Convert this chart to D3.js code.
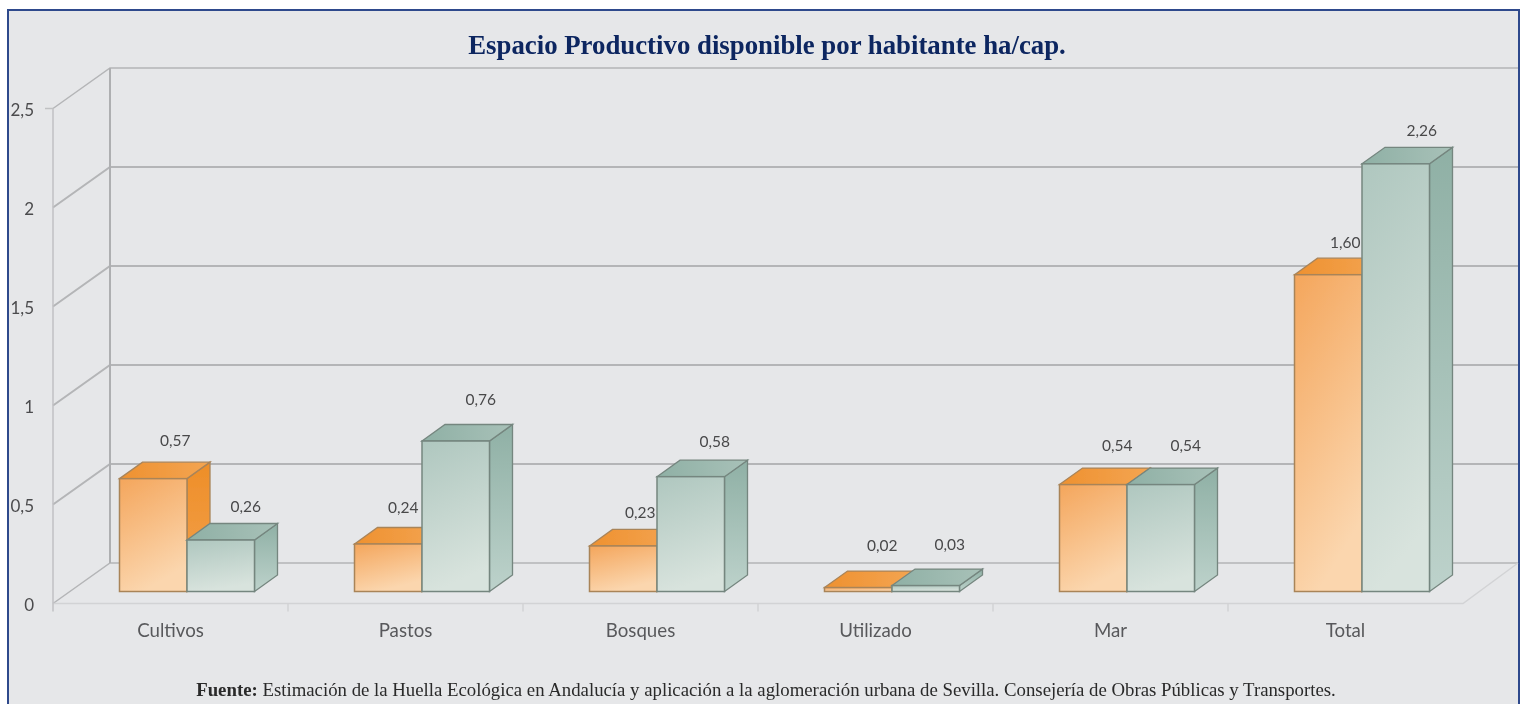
<!DOCTYPE html>
<html>
<head>
<meta charset="utf-8">
<title>Espacio Productivo disponible por habitante</title>
<script src="https://cdn.jsdelivr.net/npm/d3@7"></script>
<style>
    html, body { margin: 0; padding: 0; background: #ffffff; }
    svg { display: block; }
    text { font-family: Lato, sans-serif; }
</style>
</head>
<body>
<div id="chart"></div>
<script>

const categories = ["Cultivos", "Pastos", "Bosques", "Utilizado", "Mar", "Total"]
const series_names = ["naranja", "verde"]

// printed values
const naranja_labels = ["0,57", "0,24", "0,23", "0,02", "0,54", "1,60"]
const verde_labels = ["0,26", "0,76", "0,58", "0,03", "0,54", "2,26"]

// bar heights as drawn. The last green bar is labelled 2,26 but only reaches about 2,16 in the picture
const naranja_values = [0.57, 0.24, 0.23, 0.02, 0.54, 1.60]
const verde_values = [0.26, 0.76, 0.58, 0.03, 0.54, 2.16]

const y_ticks = [0, 0.5, 1, 1.5, 2, 2.5]
const y_tick_labels = ["0", "0,5", "1", "1,5", "2", "2,5"]

const title_text = "Espacio Productivo disponible por habitante ha/cap."
const source_bold = "Fuente:"
const source_text = " Estimación de la Huella Ecológica en Andalucía y aplicación a la aglomeración urbana de Sevilla. Consejería de Obras Públicas y Transportes."

const width = 1520
const height = 704

// layout of the fake 3d box
const wall_dx = 57
const wall_dy = -40.5
const bar_dx = 23
const bar_dy = -16.5
const bar_base = 591.5

const svg = d3.select("#chart").append("svg")
    .attr("width", width)
    .attr("height", height)

const defs = svg.append("defs")

function add_gradient(id, from, to, x2, y2){
    const g = defs.append("linearGradient").attr("id", id)
        .attr("x1", 0).attr("y1", 0).attr("x2", x2).attr("y2", y2)
    g.append("stop").attr("offset", "0%").attr("stop-color", from)
    g.append("stop").attr("offset", "100%").attr("stop-color", to)
}

add_gradient("naranja_front", "#f4a65c", "#fbd6ae", 0.35, 1)
add_gradient("naranja_top", "#ee9130", "#f4a552", 1, 0)
add_gradient("naranja_side", "#ee8e28", "#f3a24e", 0, 1)
add_gradient("verde_front", "#afc7bf", "#d8e3dd", 0.2, 1)
add_gradient("verde_top", "#8fb0a5", "#a8c1b8", 1, 0)
add_gradient("verde_side", "#8fb0a5", "#bdd2cb", 0, 1)

// the source picture is a bit soft, everything goes through a small blur
defs.append("filter").attr("id", "soft")
    .attr("filterUnits", "userSpaceOnUse")
    .attr("x", 0).attr("y", 0).attr("width", width).attr("height", height)
    .append("feGaussianBlur").attr("stdDeviation", 0.45)

const root = svg.append("g").attr("filter", "url(#soft)")

// background + the navy frame (open at the bottom)
root.append("rect")
    .attr("x", 8).attr("y", 10)
    .attr("width", 1511).attr("height", height - 10)
    .attr("fill", "#e6e7e9")

root.append("path")
    .attr("d", d3.line()([[8, height + 5], [8, 10], [1519, 10], [1519, height + 5]]))
    .attr("fill", "none")
    .attr("stroke", "#2f4a8c")
    .attr("stroke-width", 2)

const x = d3.scaleBand().domain(categories).range([53, 1463])
const x_inner = d3.scaleBand().domain(series_names).range([66.5, 201.5])
const y_front = d3.scaleLinear().domain([0, 2.5]).range([603.5, 108.5])
const y_bar = d3.scaleLinear().domain([0, 2.5]).range([bar_base, bar_base - 495])

const line = d3.line()

// walls
const walls = root.append("g").attr("fill", "none")

walls.selectAll(".grid")
    .data(y_ticks.filter(d => d > 0))
    .join("path")
    .attr("class", "grid")
    .attr("d", d => line([[53, y_front(d)], [53 + wall_dx, y_front(d) + wall_dy], [1518, y_front(d) + wall_dy]]))
    .attr("stroke", "#b4b5b7")
    .attr("stroke-width", d => d == 2.5 ? 1.5 : 2)

// zero line of the back wall and the floor are lighter
walls.append("path")
    .attr("d", line([[53, y_front(0)], [53 + wall_dx, y_front(0) + wall_dy], [1518, y_front(0) + wall_dy]]))
    .attr("stroke", "#b4b5b7")
    .attr("stroke-width", 1.5)

walls.append("path")
    .attr("d", line([[53, y_front(0)], [1463, y_front(0)], [1463 + wall_dx - 2, y_front(0) + wall_dy]]))
    .attr("stroke", "#d2d3d5")
    .attr("stroke-width", 1.5)

walls.append("path")
    .attr("d", line([[53 + wall_dx, y_front(2.5) + wall_dy], [53 + wall_dx, y_front(0) + wall_dy]]))
    .attr("stroke", "#aeafb1")
    .attr("stroke-width", 2)

walls.append("path")
    .attr("d", line([[53, y_front(2.5)], [53, y_front(0) + 8]]))
    .attr("stroke", "#c0c1c3")
    .attr("stroke-width", 1.5)

walls.append("path")
    .attr("d", line([[45, y_front(2.5)], [53, y_front(2.5)]]))
    .attr("stroke", "#c0c1c3")
    .attr("stroke-width", 1.5)

// ticks between the categories
walls.selectAll(".floor_tick")
    .data(categories.slice(1))
    .join("path")
    .attr("class", "floor_tick")
    .attr("d", d => line([[x(d), y_front(0)], [x(d), y_front(0) + 8]]))
    .attr("stroke", "#d2d3d5")
    .attr("stroke-width", 1.5)

// axes
const y_axis = d3.axisLeft(y_front)
    .tickValues(y_ticks)
    .tickFormat((d, i) => y_tick_labels[i])
    .tickSize(0)
    .tickPadding(19)

root.append("g")
    .attr("transform", "translate(53,2)")
    .call(y_axis)
    .call(g => g.select(".domain").remove())
    .selectAll("text")
    .style("font-family", "Lato, sans-serif")
    .style("font-size", "17px")
    .style("fill", "#4b4b4d")

const x_axis = d3.axisBottom(x).tickSize(0).tickPadding(20)

root.append("g")
    .attr("transform", "translate(0," + y_front(0) + ")")
    .call(x_axis)
    .call(g => g.select(".domain").remove())
    .selectAll("text")
    .style("font-family", "Lato, sans-serif")
    .style("font-size", "18.7px")
    .style("fill", "#58595b")

// bars
function draw_bar(g, name, x0, value){

    const x1 = x0 + x_inner.bandwidth()
    const top = y_bar(value)

    const stroke = name == "naranja" ? "#a98459" : "#75867f"

    g.append("path")
        .attr("d", line([[x1, bar_base], [x1 + bar_dx, bar_base + bar_dy], [x1 + bar_dx, top + bar_dy], [x1, top]]) + "Z")
        .attr("fill", "url(#" + name + "_side)")
        .attr("stroke", stroke).attr("stroke-width", 1.3)

    g.append("path")
        .attr("d", line([[x0, top], [x0 + bar_dx, top + bar_dy], [x1 + bar_dx, top + bar_dy], [x1, top]]) + "Z")
        .attr("fill", "url(#" + name + "_top)")
        .attr("stroke", stroke).attr("stroke-width", 1.3)

    g.append("rect")
        .attr("x", x0).attr("y", top)
        .attr("width", x1 - x0).attr("height", bar_base - top)
        .attr("fill", "url(#" + name + "_front)")
        .attr("stroke", stroke).attr("stroke-width", 1.5)
}

const bars = root.append("g")

categories.forEach((c, i) => {
    draw_bar(bars, "naranja", x(c) + x_inner("naranja"), naranja_values[i])
    draw_bar(bars, "verde", x(c) + x_inner("verde"), verde_values[i])
})

// value labels, placed by hand like in the original: [dx from bar centre, dy from bar top]
const label_shift = {
    naranja: [[22, -33], [15, -31], [17, -28], [24, -37], [24, -34], [17, -27]],
    verde: [[25, -28], [25, -36], [24, -30], [24, -36], [25, -34], [26, -28]]
}

const labels = root.append("g")
    .attr("text-anchor", "middle")
    .style("font-size", "15.5px")
    .attr("fill", "#48484a")

series_names.forEach(name => {
    const printed = name == "naranja" ? naranja_labels : verde_labels
    const values = name == "naranja" ? naranja_values : verde_values
    categories.forEach((c, i) => {
        labels.append("text")
            .attr("x", x(c) + x_inner(name) + x_inner.bandwidth() / 2 + label_shift[name][i][0])
            .attr("y", y_bar(values[i]) + label_shift[name][i][1])
            .text(printed[i])
    })
})

// title and source
root.append("text")
    .attr("x", 767).attr("y", 53.5)
    .attr("text-anchor", "middle")
    .style("font-family", "'Liberation Serif', serif")
    .style("font-size", "26.8px")
    .style("font-weight", "bold")
    .attr("fill", "#0c2661")
    .text(title_text)

const source = root.append("text")
    .attr("x", 766).attr("y", 696)
    .attr("text-anchor", "middle")
    .style("font-family", "'Liberation Serif', serif")
    .style("font-size", "18.8px")
    .attr("fill", "#2a2a2a")

source.append("tspan").style("font-weight", "bold").text(source_bold)
source.append("tspan").text(source_text)

</script>
</body>
</html>
